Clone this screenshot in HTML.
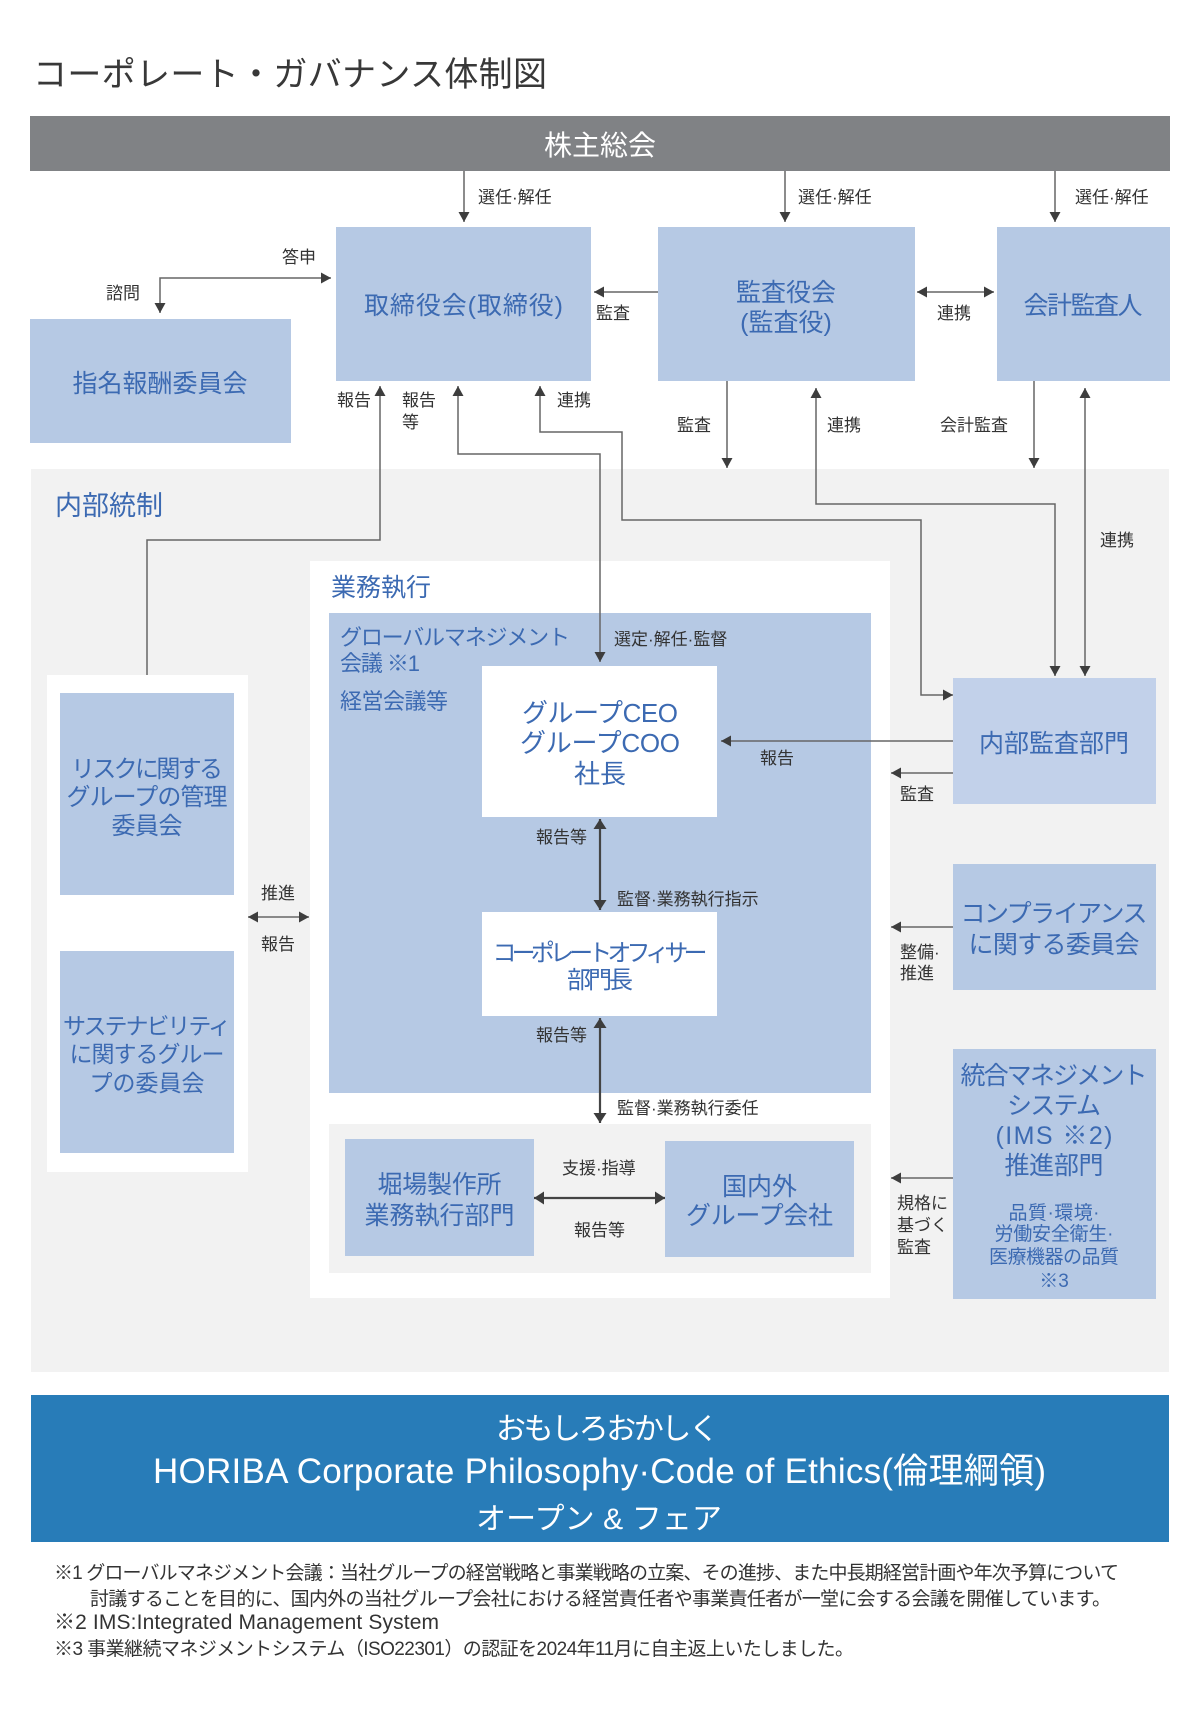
<!DOCTYPE html>
<html lang="ja">
<head>
<meta charset="utf-8">
<style>
html,body{margin:0;padding:0;background:#fff;}
svg{display:block;}
.lb{font-size:17px;fill:#333;}
.bx{fill:#3c6ab2;}
</style>
</head>
<body>
<svg width="1200" height="1734" viewBox="0 0 1200 1734" xmlns="http://www.w3.org/2000/svg" font-family="'Liberation Sans','Noto Sans CJK JP',sans-serif">
<defs>
<marker id="a" viewBox="0 0 10 11" refX="10" refY="5.5" markerWidth="10" markerHeight="11" markerUnits="userSpaceOnUse" orient="auto-start-reverse"><path d="M0,0L10,5.5L0,11z" fill="#3d3d3d"/></marker>
<marker id="b" viewBox="0 0 10 13" refX="10" refY="6.5" markerWidth="11" markerHeight="13" markerUnits="userSpaceOnUse" orient="auto-start-reverse"><path d="M0,0L10,6.5L0,13z" fill="#3d3d3d"/></marker>
</defs>
<rect width="1200" height="1734" fill="#fff"/>

<!-- title -->
<text x="33" y="86" font-size="34" fill="#383838" textLength="514" lengthAdjust="spacing">コーポレート・ガバナンス体制図</text>

<!-- shareholders -->
<rect x="30" y="116" width="1140" height="55" fill="#808285"/>
<text x="600" y="155" font-size="28" fill="#fff" text-anchor="middle">株主総会</text>

<!-- top boxes -->
<rect x="336" y="227" width="255" height="154" fill="#b6c9e4"/>
<text class="bx" x="463.5" y="314" font-size="25" text-anchor="middle" textLength="199" lengthAdjust="spacing">取締役会(取締役)</text>
<rect x="30" y="319" width="261" height="124" fill="#b6c9e4"/>
<text class="bx" x="160" y="392" font-size="25" text-anchor="middle" textLength="175" lengthAdjust="spacing">指名報酬委員会</text>
<rect x="658" y="227" width="257" height="154" fill="#b6c9e4"/>
<text class="bx" x="786" y="301" font-size="25" text-anchor="middle">監査役会</text>
<text class="bx" x="786" y="331" font-size="25" text-anchor="middle">(監査役)</text>
<rect x="997" y="227" width="173" height="154" fill="#b6c9e4"/>
<text class="bx" x="1083" y="314" font-size="25" text-anchor="middle" textLength="119" lengthAdjust="spacing">会計監査人</text>

<!-- internal control region -->
<rect x="31" y="469" width="1138" height="903" fill="#f2f2f2"/>
<text class="bx" x="55" y="515" font-size="27">内部統制</text>

<!-- left white column -->
<rect x="47" y="675" width="201" height="497" fill="#fff"/>
<rect x="60" y="693" width="174" height="202" fill="#b6c9e4"/>
<text class="bx" x="147" y="777" font-size="24" text-anchor="middle" textLength="152" lengthAdjust="spacing">リスクに関する</text>
<text class="bx" x="147" y="805" font-size="24" text-anchor="middle" textLength="161" lengthAdjust="spacing">グループの管理</text>
<text class="bx" x="147" y="834" font-size="24" text-anchor="middle" textLength="71" lengthAdjust="spacing">委員会</text>
<rect x="60" y="951" width="174" height="202" fill="#b6c9e4"/>
<text class="bx" x="147" y="1034" font-size="23" text-anchor="middle" textLength="168" lengthAdjust="spacing">サステナビリティ</text>
<text class="bx" x="147" y="1062" font-size="23" text-anchor="middle" textLength="155" lengthAdjust="spacing">に関するグルー</text>
<text class="bx" x="147" y="1091" font-size="23" text-anchor="middle" textLength="115" lengthAdjust="spacing">プの委員会</text>

<!-- business execution region -->
<rect x="310" y="561" width="580" height="737" fill="#fff"/>
<text class="bx" x="331" y="596" font-size="25">業務執行</text>
<rect x="329" y="613" width="542" height="480" fill="#b6c9e4"/>
<text class="bx" x="340" y="645" font-size="22" textLength="230" lengthAdjust="spacing">グローバルマネジメント</text>
<text class="bx" x="340" y="671" font-size="22" textLength="80" lengthAdjust="spacing">会議 ※1</text>
<text class="bx" x="340" y="709" font-size="22" textLength="108" lengthAdjust="spacing">経営会議等</text>

<rect x="482" y="666" width="235" height="151" fill="#fff"/>
<text class="bx" x="600" y="722" font-size="26" text-anchor="middle" textLength="156" lengthAdjust="spacing">グループCEO</text>
<text class="bx" x="600" y="752" font-size="26" text-anchor="middle" textLength="160" lengthAdjust="spacing">グループCOO</text>
<text class="bx" x="600" y="783" font-size="26" text-anchor="middle">社長</text>

<rect x="482" y="912" width="235" height="104" fill="#fff"/>
<text class="bx" x="600" y="961" font-size="24" text-anchor="middle" textLength="215" lengthAdjust="spacing">コーポレートオフィサー</text>
<text class="bx" x="600" y="988" font-size="24" text-anchor="middle" textLength="66" lengthAdjust="spacing">部門長</text>

<rect x="329" y="1124" width="542" height="149" fill="#f2f2f2"/>
<rect x="345" y="1139" width="189" height="117" fill="#b6c9e4"/>
<text class="bx" x="439.5" y="1193" font-size="25" text-anchor="middle" textLength="124" lengthAdjust="spacing">堀場製作所</text>
<text class="bx" x="439.5" y="1224" font-size="25" text-anchor="middle" textLength="150" lengthAdjust="spacing">業務執行部門</text>
<rect x="665" y="1141" width="189" height="116" fill="#b6c9e4"/>
<text class="bx" x="759.5" y="1195" font-size="25" text-anchor="middle" textLength="75" lengthAdjust="spacing">国内外</text>
<text class="bx" x="759.5" y="1224" font-size="25" text-anchor="middle" textLength="147" lengthAdjust="spacing">グループ会社</text>

<!-- right column -->
<rect x="953" y="678" width="203" height="126" fill="#c2d1ea"/>
<text class="bx" x="1054" y="752" font-size="25" text-anchor="middle" textLength="150" lengthAdjust="spacing">内部監査部門</text>
<rect x="953" y="864" width="203" height="126" fill="#b6c9e4"/>
<text class="bx" x="1054" y="922" font-size="25" text-anchor="middle" textLength="187" lengthAdjust="spacing">コンプライアンス</text>
<text class="bx" x="1054" y="953" font-size="25" text-anchor="middle" textLength="171" lengthAdjust="spacing">に関する委員会</text>
<rect x="953" y="1049" width="203" height="250" fill="#b6c9e4"/>
<text class="bx" x="1054" y="1084" font-size="25" text-anchor="middle" textLength="187" lengthAdjust="spacing">統合マネジメント</text>
<text class="bx" x="1054" y="1114" font-size="25" text-anchor="middle" textLength="94" lengthAdjust="spacing">システム</text>
<text class="bx" x="1054" y="1144" font-size="25" text-anchor="middle" textLength="117" lengthAdjust="spacing">(IMS ※2)</text>
<text class="bx" x="1054" y="1174" font-size="25" text-anchor="middle" textLength="99" lengthAdjust="spacing">推進部門</text>
<text class="bx" x="1054" y="1219" font-size="19" text-anchor="middle" textLength="91" lengthAdjust="spacing">品質·環境·</text>
<text class="bx" x="1054" y="1240" font-size="19" text-anchor="middle" textLength="119" lengthAdjust="spacing">労働安全衛生·</text>
<text class="bx" x="1054" y="1263" font-size="19" text-anchor="middle" textLength="130" lengthAdjust="spacing">医療機器の品質</text>
<text class="bx" x="1054" y="1287" font-size="19" text-anchor="middle">※3</text>

<!-- connectors -->
<g fill="none" stroke="#666" stroke-width="1.5">
<path d="M464,171V222" marker-end="url(#a)"/>
<path d="M785,171V222" marker-end="url(#a)"/>
<path d="M1055,171V222" marker-end="url(#a)"/>
<path d="M160,313V278H331" marker-start="url(#a)" marker-end="url(#a)"/>
<path d="M658,292H594" marker-end="url(#a)"/>
<path d="M917,292H994" marker-start="url(#a)" marker-end="url(#a)"/>
<path d="M147,675V540H380V386" marker-end="url(#a)"/>
<path d="M458,386V454H600V662" marker-start="url(#a)" marker-end="url(#a)"/>
<path d="M540,386V432H622V520H921V695H953" marker-start="url(#a)" marker-end="url(#a)"/>
<path d="M727,381V468" marker-end="url(#a)"/>
<path d="M816,388V504H1055V676" marker-start="url(#a)" marker-end="url(#a)"/>
<path d="M1034,381V468" marker-end="url(#a)"/>
<path d="M1085,388V676" marker-start="url(#a)" marker-end="url(#a)"/>
<path d="M953,741H721" marker-end="url(#a)"/>
<path d="M953,773H891" marker-end="url(#a)"/>
<path d="M248,917H309" marker-start="url(#a)" marker-end="url(#a)"/>
<path d="M953,927H891" marker-end="url(#a)"/>
<path d="M953,1178H891" marker-end="url(#a)"/>
</g>
<g fill="none" stroke="#444" stroke-width="2.2">
<path d="M600,819V910" marker-start="url(#b)" marker-end="url(#b)"/>
<path d="M600,1018V1123" marker-start="url(#b)" marker-end="url(#b)"/>
<path d="M534,1198H665" marker-start="url(#b)" marker-end="url(#b)"/>
</g>

<!-- labels -->
<text class="lb" x="478" y="203">選任·解任</text>
<text class="lb" x="798" y="203">選任·解任</text>
<text class="lb" x="1075" y="203">選任·解任</text>
<text class="lb" x="282" y="263">答申</text>
<text class="lb" x="106" y="299">諮問</text>
<text class="lb" x="596" y="319">監査</text>
<text class="lb" x="937" y="319">連携</text>
<text class="lb" x="337" y="406">報告</text>
<text class="lb" x="402" y="406">報告</text>
<text class="lb" x="402" y="428">等</text>
<text class="lb" x="557" y="406">連携</text>
<text class="lb" x="677" y="431">監査</text>
<text class="lb" x="827" y="431">連携</text>
<text class="lb" x="940" y="431">会計監査</text>
<text class="lb" x="1100" y="546">連携</text>
<text class="lb" x="614" y="645">選定·解任·監督</text>
<text class="lb" x="760" y="764">報告</text>
<text class="lb" x="900" y="800">監査</text>
<text class="lb" x="536" y="843">報告等</text>
<text class="lb" x="617" y="905">監督·業務執行指示</text>
<text class="lb" x="261" y="899">推進</text>
<text class="lb" x="261" y="950">報告</text>
<text class="lb" x="900" y="958">整備·</text>
<text class="lb" x="900" y="979">推進</text>
<text class="lb" x="536" y="1041">報告等</text>
<text class="lb" x="617" y="1114">監督·業務執行委任</text>
<text class="lb" x="562" y="1174">支援·指導</text>
<text class="lb" x="574" y="1236">報告等</text>
<text class="lb" x="897" y="1209">規格に</text>
<text class="lb" x="897" y="1231">基づく</text>
<text class="lb" x="897" y="1253">監査</text>

<!-- philosophy band -->
<rect x="31" y="1395" width="1138" height="147" fill="#287cb8"/>
<text x="496" y="1439" font-size="30" fill="#fff" textLength="223" lengthAdjust="spacing">おもしろおかしく</text>
<text x="153" y="1483" font-size="35" fill="#fff" textLength="893" lengthAdjust="spacing">HORIBA Corporate Philosophy·Code of Ethics(倫理綱領)</text>
<text x="476" y="1529" font-size="30" fill="#fff" textLength="246" lengthAdjust="spacing">オープン &amp; フェア</text>

<!-- footnotes -->
<text x="54" y="1579" font-size="19" fill="#333" textLength="1065" lengthAdjust="spacing">※1 グローバルマネジメント会議：当社グループの経営戦略と事業戦略の立案、その進捗、また中長期経営計画や年次予算について</text>
<text x="90" y="1605" font-size="19" fill="#333" textLength="1021" lengthAdjust="spacing">討議することを目的に、国内外の当社グループ会社における経営責任者や事業責任者が一堂に会する会議を開催しています。</text>
<text x="54" y="1629" font-size="21" fill="#333" textLength="385" lengthAdjust="spacing">※2 IMS:Integrated Management System</text>
<text x="54" y="1655" font-size="19" fill="#333" textLength="800" lengthAdjust="spacing">※3 事業継続マネジメントシステム（ISO22301）の認証を2024年11月に自主返上いたしました。</text>
</svg>
</body>
</html>
